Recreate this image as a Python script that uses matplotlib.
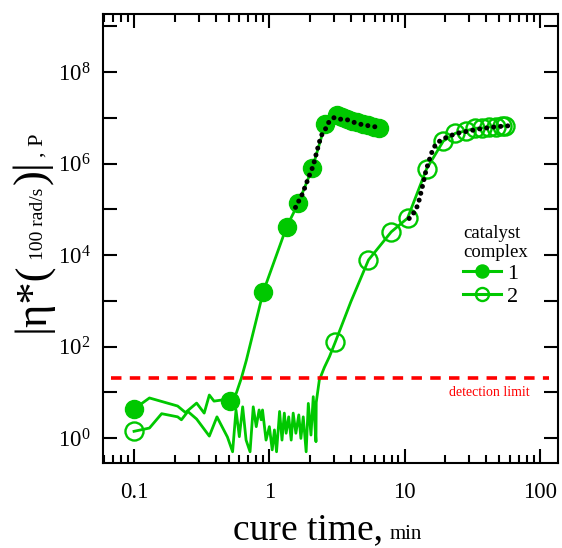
import numpy as np
import matplotlib
matplotlib.use('Agg')
import matplotlib.pyplot as plt
from matplotlib.lines import Line2D
from matplotlib.ticker import FixedLocator, FuncFormatter, LogLocator, NullLocator

plt.rcParams['font.family'] = ['Liberation Serif', 'DejaVu Serif']
plt.rcParams['mathtext.fontset'] = 'custom'
plt.rcParams['mathtext.rm'] = 'Liberation Serif'

GREEN = '#00c800'

# catalyst complex 1: full trace, measured points, model curve
t1_line = [0.1, 0.13, 0.21, 0.24, 0.29, 0.33, 0.36, 0.39, 0.45, 0.515, 0.57, 0.62,
           0.676, 0.9, 1.34, 1.64, 2.08, 2.59, 3.18, 3.46, 3.77, 4.10, 4.47, 4.95,
           5.39, 5.96, 6.5]
eta1_line = [4.3, 7.5, 5.0, 3.6, 5.8, 3.5, 8.7, 6.4, 6.8, 6.4, 9.6, 20, 50, 1550,
             4.1e4, 1.37e5, 8e5, 7.3e6, 1.15e7, 1.04e7, 9.3e6, 8.5e6, 7.9e6, 7.3e6,
             6.8e6, 6.3e6, 6.0e6]
t1_pts = [0.1, 0.515, 0.9, 1.34, 1.64, 2.08, 2.59, 3.18, 3.46, 3.77, 4.10, 4.47,
          4.95, 5.39, 5.96, 6.5]
eta1_pts = [4.3, 6.4, 1550, 4.1e4, 1.37e5, 8e5, 7.3e6, 1.15e7, 1.04e7, 9.3e6, 8.5e6,
            7.9e6, 7.3e6, 6.8e6, 6.3e6, 6.0e6]
t1_fit = [1.56, 1.76, 1.93, 2.11, 2.25, 2.41, 2.59, 2.73, 3.02, 3.37, 3.71, 4.15,
          4.53, 4.98, 5.55, 6.16]
eta1_fit = [1.1e5, 2.2e5, 4.6e5, 9e5, 1.9e6, 4e6, 5.6e6, 7.8e6, 1.02e7, 9.3e6, 9.2e6,
            8.1e6, 7.4e6, 7.0e6, 6.6e6, 6.3e6]

# catalyst complex 2
t2_line = [0.1, 0.13, 0.16, 0.21, 0.224, 0.25, 0.29, 0.36, 0.41, 0.49, 0.535, 0.567,
           0.60, 0.635, 0.673, 0.72, 0.76, 0.80, 0.84, 0.87, 0.89, 0.945, 1.0, 1.05,
           1.09, 1.13, 1.19, 1.24, 1.29, 1.33, 1.39, 1.45, 1.50, 1.57, 1.65, 1.71,
           1.78, 1.87, 1.94, 2.03, 2.11, 2.21, 2.22, 2.34, 2.55, 2.78, 3.07, 4.0, 5.4,
           7.95, 10.5, 14.5, 19.3, 23.7, 28.5, 33, 37.5, 42, 47, 52, 55.5]
eta2_line = [1.4, 1.65, 3.4, 2.9, 2.5, 3.8, 2.6, 1.1, 2.9, 1.05, 0.5, 4.1, 1.07, 4.8,
             0.9, 0.5, 4.8, 1.77, 4.1, 2.5, 4.1, 0.9, 1.77, 0.55, 1.5, 0.5, 3.8, 0.9,
             3.5, 1.27, 2.9, 0.9, 3.5, 1.27, 3.2, 0.98, 2.9, 0.5, 5.7, 1.16, 8.0, 0.83,
             6.0, 18.5, 35, 60, 125, 950, 7800, 3.2e4, 6.4e4, 7.6e5, 3.1e6, 4.6e6,
             5.2e6, 5.9e6, 6.0e6, 6.3e6, 6.4e6, 6.6e6, 6.6e6]
t2_pts = [0.1, 3.07, 5.4, 7.95, 10.5, 14.5, 19.3, 23.7, 28.5, 33, 37.5, 42, 47, 52, 55.5]
eta2_pts = [1.4, 125, 7800, 3.2e4, 6.4e4, 7.6e5, 3.1e6, 4.6e6, 5.2e6, 5.9e6, 6.0e6,
            6.3e6, 6.4e6, 6.6e6, 6.6e6]
t2_fit = [10.8, 12.1, 12.8, 13.6, 14.4, 15.2, 16.1, 17.2, 19.1, 21.4, 24.6, 29.2,
          35.6, 43.5, 51.5, 59.4]
eta2_fit = [6.3e4, 9.6e4, 1.6e5, 3.4e5, 7.2e5, 1.2e6, 2.0e6, 2.8e6, 3.4e6, 4.0e6,
            4.6e6, 5.1e6, 5.7e6, 6.2e6, 6.5e6, 6.7e6]

detection_limit = 20
limit_span = (0.068, 117)

fig = plt.figure(figsize=(5.62, 5.48), dpi=100)
ax = fig.add_axes([0.1833, 0.1551, 0.8096, 0.8194])

ax.plot(t1_line, eta1_line, '-', color=GREEN, lw=2.0)
ax.plot(t1_pts, eta1_pts, 'o', color=GREEN, ms=13, mec=GREEN)
ax.plot(t2_line, eta2_line, '-', color=GREEN, lw=2.0)
ax.plot(t2_pts, eta2_pts, 'o', ms=13, mfc='none', mec=GREEN, mew=1.7)

# model curves as black dots
for tf, ef in [(t1_fit, eta1_fit), (t2_fit, eta2_fit)]:
    ax.plot(tf, ef, color='black', lw=3.6, linestyle=(0, (0.01, 1.4)),
            dash_capstyle='round')

ax.plot(limit_span, [detection_limit] * 2, color='red', lw=2.6,
        dashes=[2.9, 2.3], dash_capstyle='butt')
ax.text(42, 10, 'detection limit', color='red', fontsize=10,
        ha='center', va='center')

ax.set_xscale('log')
ax.set_yscale('log')
ax.set_xlim(0.059, 135.8)
ax.set_ylim(0.284, 1.86e9)

ax.set_xticks([0.1, 1, 10, 100])
ax.xaxis.set_major_formatter(FuncFormatter(lambda v, pos: '%g' % v))
ax.xaxis.set_minor_locator(LogLocator(base=10, subs=np.arange(2, 10)))
ax.yaxis.set_major_locator(FixedLocator([10.0 ** k for k in range(0, 10)]))
ax.yaxis.set_minor_locator(NullLocator())
ax.yaxis.set_major_formatter(FuncFormatter(
    lambda v, pos: r'$\mathregular{10^{%d}}$' % round(np.log10(v))
    if round(np.log10(v)) % 2 == 0 else ''))

ax.tick_params(which='both', direction='in', top=True, right=True, width=1.5)
ax.tick_params(which='major', length=10, labelsize=16.5)
ax.tick_params(which='minor', length=6)
ax.tick_params(axis='x', pad=14)
ax.tick_params(axis='y', pad=9)
for s in ax.spines.values():
    s.set_linewidth(1.5)

# axis titles, pieced together for mixed sizes
fig.text(0.681, 0.016, 'cure time,', fontsize=27, ha='right', va='baseline')
fig.text(0.694, 0.016, 'min', fontsize=15, ha='left', va='baseline')

# y title: each piece starts where the previous one ended
renderer = fig.canvas.get_renderer()
fig_h = fig.bbox.height
xb = 0.0765
kw = dict(rotation=90, rotation_mode='anchor', ha='left', va='baseline')
ylabel_parts = [('|η*(', 32, 3), ('100 rad/s', 14, 3), (')|', 32, 3), (', P', 16, 0)]
y0 = 0.394
for txt, size, gap in ylabel_parts:
    t = fig.text(xb, y0, txt, fontsize=size, **kw)
    bb = t.get_window_extent(renderer)
    y0 = (bb.y1 + gap) / fig_h

handles = [
    Line2D([], [], color=GREEN, lw=2.2, marker='o', ms=9.4, mec=GREEN),
    Line2D([], [], color=GREEN, lw=2.2, marker='o', ms=9.4, mfc='none', mec=GREEN, mew=1.7),
]
leg = ax.legend(handles, ['1', '2'], title='catalyst\ncomplex', frameon=False,
                loc='upper left', bbox_to_anchor=(0.757, 0.565), fontsize=16,
                title_fontsize=13.5, handlelength=1.7, handletextpad=0.3,
                labelspacing=0.1, borderpad=0.2, alignment='left')

fig.savefig('out.png', dpi=100)
